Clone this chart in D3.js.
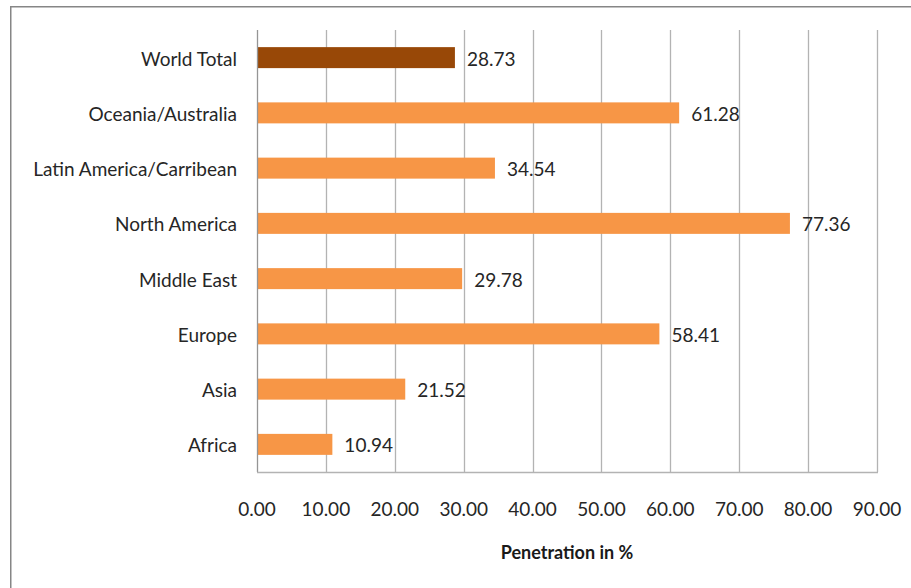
<!DOCTYPE html>
<html><head><meta charset="utf-8">
<script src="https://cdn.jsdelivr.net/npm/d3@7"></script>
<style>body{margin:0;background:#fff}svg{display:block}text{font-family:Lato,"Open Sans",sans-serif}</style>
</head><body>
<svg id="c" width="911" height="588"></svg>
<script>
const categories = ["World Total","Oceania/Australia","Latin America/Carribean","North America","Middle East","Europe","Asia","Africa"];
const values = [28.73,61.28,34.54,77.36,29.78,58.41,21.52,10.94];
const tickValues = [0,10,20,30,40,50,60,70,80,90];
const axisTitle = "Penetration in %";

const svg = d3.select("#c");
svg.append("rect").attr("x",10.75).attr("y",6.75).attr("width",920).attr("height",600)
  .attr("fill","#fff").attr("stroke","#868686").attr("stroke-width",1.5);

const pL=257, pR=877, pT=30, pB=472;
const x = d3.scaleLinear().domain([0,90]).range([pL,pR]);
const y = d3.scaleBand().domain(categories).range([pT,pB]).paddingInner(0.62).paddingOuter(0.31);

// gridlines
svg.append("g").selectAll("line").data(tickValues.slice(1)).join("line")
  .attr("x1",d=>Math.round(x(d))+0.5).attr("x2",d=>Math.round(x(d))+0.5)
  .attr("y1",pT).attr("y2",pB).attr("stroke","#b3b3b3").attr("stroke-width",1.3);

// bars
svg.append("g").selectAll("rect").data(categories).join("rect")
  .attr("x",x(0)).attr("y",d=>y(d)).attr("height",y.bandwidth())
  .attr("width",(d,i)=>x(values[i])-x(0))
  .attr("fill",(d,i)=>i===0?"#984807":"#f79646");

// axes lines
svg.append("line").attr("x1",pL+0.5).attr("x2",pL+0.5).attr("y1",pT).attr("y2",pB).attr("stroke","#959595").attr("stroke-width",1.3);
svg.append("line").attr("x1",pL).attr("x2",pR+1).attr("y1",pB+0.5).attr("y2",pB+0.5).attr("stroke","#b3b3b3").attr("stroke-width",1.3);

const fs = 19;
// category labels
svg.append("g").selectAll("text").data(categories).join("text")
  .attr("x",237).attr("y",d=>y(d)+y.bandwidth()/2).attr("dy","0.42em")
  .attr("text-anchor","end").attr("font-size",fs).attr("fill","#262626").text(d=>d);

// value labels
svg.append("g").selectAll("text").data(categories).join("text")
  .attr("x",(d,i)=>x(values[i])+12).attr("y",d=>y(d)+y.bandwidth()/2).attr("dy","0.42em")
  .attr("font-size",fs).attr("fill","#262626").text((d,i)=>values[i].toFixed(2));

// x tick labels
svg.append("g").selectAll("text").data(tickValues).join("text")
  .attr("x",d=>x(d)).attr("y",516).attr("text-anchor","middle")
  .attr("font-size",fs).attr("fill","#262626").text(d=>d.toFixed(2));

svg.append("text").attr("x",567).attr("y",559).attr("text-anchor","middle")
  .attr("font-size",18).attr("font-weight","bold").attr("fill","#1a1a1a").text(axisTitle);
</script>
</body></html>
